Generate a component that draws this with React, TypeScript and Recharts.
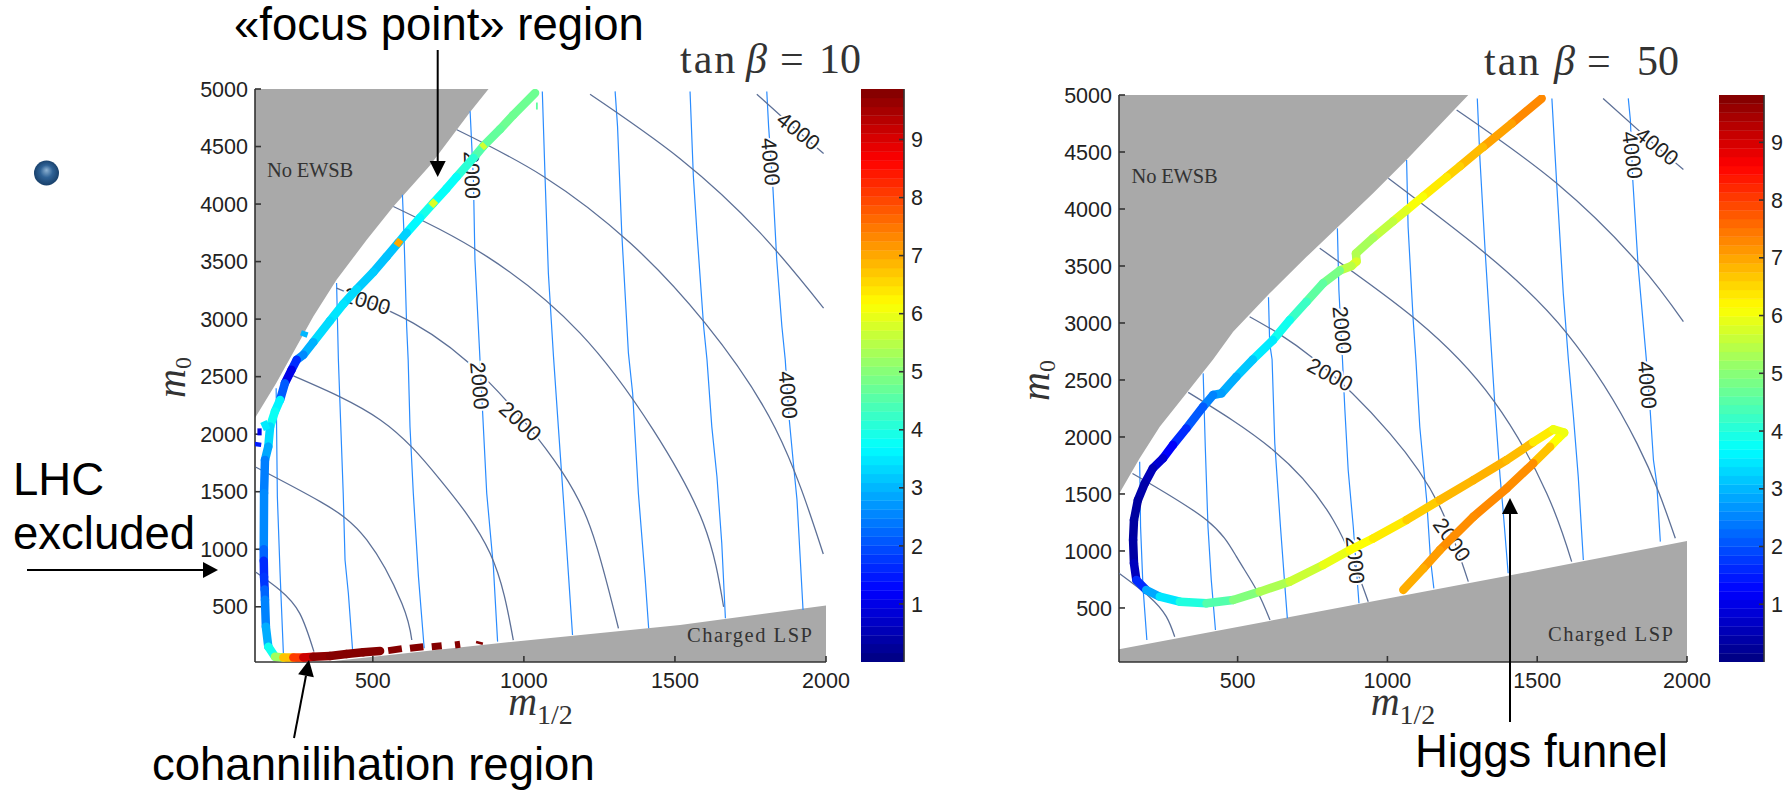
/**
 * Two m0 / m1/2 parameter-plane panels (tan beta = 10 and 50) with jet colour bars
 * and the hand-placed annotations that sit on top of them.
 */
import { Area, Bar, ComposedChart, Label, Scatter, XAxis, YAxis } from 'recharts';

type Pt = number[];

const xTicks = [500, 1000, 1500, 2000];
const yTicks = [500, 1000, 1500, 2000, 2500, 3000, 3500, 4000, 4500, 5000];
const barTicks = [1, 2, 3, 4, 5, 6, 7, 8, 9];

// ---- tan beta = 10 ----
const noEwsb10: Pt[] = [[110, 2140], [180, 2443], [226, 2660], [303, 3023], [380, 3342], [480, 3690], [568, 3979], [689, 4336], [822, 4800], [883, 5000]];
const chargedLsp10: Pt[] = [[340, 20], [965, 197], [1517, 342], [2000, 510]];

const gluinoLines10: Pt[][] = [
  [[180, 2400], [184, 1458], [193, 791], [204, 95]],
  [[380, 3313], [386, 2646], [394, 2066], [402, 1487], [408, 907], [419, 617], [433, 124]],
  [[598, 4081], [603, 3747], [612, 2936], [617, 2646], [623, 2066], [634, 1487], [651, 762], [670, 139]],
  [[822, 4806], [833, 4211], [838, 3516], [852, 2791], [863, 2211], [877, 1487], [899, 849], [913, 197]],
  [[1061, 4979], [1070, 4240], [1081, 3400], [1098, 2675], [1114, 2066], [1131, 1429], [1148, 762], [1161, 255]],
  [[1302, 4979], [1310, 4675], [1324, 3747], [1346, 2704], [1360, 2356], [1379, 1487], [1401, 762], [1413, 313]],
  [[1550, 4979], [1561, 4240], [1573, 3747], [1595, 2936], [1606, 2650], [1622, 2066], [1639, 1632], [1655, 1052], [1667, 400]],
  [[1804, 4979], [1810, 4675], [1824, 4154], [1837, 3516], [1854, 2936], [1865, 2650], [1878, 2139], [1892, 1747], [1904, 1429], [1915, 907], [1924, 472]],
];

const squarkLines10: Pt[][] = [
  [[113, 800], [192, 646], [258, 443], [305, 110]],
  [[113, 1713], [326, 1414], [480, 1081], [596, 530], [629, 211]],
  [[237, 2507], [525, 2124], [723, 1603], [888, 965], [965, 211]],
  [[380, 3269], [634, 2965], [877, 2472], [1126, 1675], [1241, 1023], [1313, 313]],
  [[568, 3979], [877, 3545], [1186, 2878], [1428, 2037], [1594, 1226], [1661, 500]],
  [[778, 4646], [1065, 4240], [1352, 3661], [1600, 2965], [1832, 2052], [1991, 959]],
  [[1219, 4954], [1517, 4394], [1783, 3747], [1992, 3096]],
  [[1771, 4954], [1908, 4631], [1992, 4440]],
];

const contourLabels10 = [
  { x: 827, y: 4252, text: '2000', angle: 88 },
  { x: 480, y: 3152, text: '2000', angle: 17 },
  { x: 852, y: 2420, text: '2000', angle: 85 },
  { x: 987, y: 2110, text: '2000', angle: 42 },
  { x: 1908, y: 4631, text: '4000', angle: 38 },
  { x: 1815, y: 4368, text: '4000', angle: 85 },
  { x: 1873, y: 2340, text: '4000', angle: 85 },
];
const regionNames10 = [
  { x: 150, y: 4237, text: 'No EWSB', span: 86 },
  { x: 1540, y: 194, text: 'Charged LSP', span: 125 },
];

// x, y, fine-tuning value
const track10: Pt[] = [
  [1037, 4965, 4.7], [965, 4775, 4.8], [921, 4650, 4.7], [866, 4505, 4.6], [833, 4400, 4.4], [777, 4235, 3.8], [744, 4135, 3.7], [700, 4008, 3.8],
  [656, 3880, 4], [612, 3750, 3.3], [585, 3665, 3.2], [546, 3545, 3], [502, 3410, 3.2], [447, 3260, 3.2], [402, 3130, 3.5], [358, 2985, 3.4],
  [303, 2800, 3.3], [270, 2690, 2.6], [248, 2646, 2.5], [231, 2559, 0.8], [209, 2443, 1.2], [193, 2298, 3], [176, 2197, 4.2], [160, 2066, 3.4],
  [154, 1892, 3.3], [143, 1776, 2.4], [140, 1487, 2.5], [139, 1000, 2.6], [139, 900, 1.8], [140, 760, 1.5], [142, 650, 2], [143, 560, 2.4], [146, 327, 2.6], [154, 153, 3.2],
  [176, 66, 4.5], [204, 60, 6], [237, 60, 7.5], [270, 60, 8.6], [303, 66, 9.6], [358, 72, 9.8], [413, 90, 9.8], [468, 105, 9.8], [524, 116, 9.8],
];
const scraps10: Pt[][] = [
  [[551, 119, 9.8], [596, 136, 9.8]],
  [[623, 139, 9.8], [667, 153, 9.8]],
  [[695, 153, 9.8], [728, 162, 9.8]],
  [[772, 168, 9.8], [789, 174, 9.8]],
  [[852, 176, 9.8], [854, 197, 9.8]],
  [[138, 2110, 3.5], [150, 2040, 3.6]],
  [[118, 2020, 1], [132, 2020, 1]],
  [[118, 1892, 1.5], [120, 1930, 1.5]],
  [[270, 2849, 3], [276, 2894, 4.5]],
  [[1040, 4852, 4.6], [1046, 4852, 4.6]],
  [[872, 4520, 5.7], [860, 4490, 5.7]],
  [[708, 4030, 5.8], [692, 3985, 5.8]],
  [[592, 3690, 7], [578, 3640, 7]],
];

// ---- tan beta = 50 ----
const noEwsb50: Pt[] = [[104, 1500], [173, 1813], [240, 2090], [329, 2383], [418, 2680], [485, 2924], [607, 3260], [730, 3580], [830, 3830], [953, 4140], [1064, 4433], [1262, 4979], [1270, 5000]];
const chargedLsp50: Pt[] = [[104, 137], [1376, 769], [2000, 1087]];

const gluinoLines50: Pt[][] = [
  [[173, 1783], [176, 1213], [184, 687], [197, 219]],
  [[385, 2558], [392, 1915], [401, 1213], [412, 745], [426, 307]],
  [[603, 3225], [607, 2821], [615, 2680], [624, 1944], [643, 1213], [657, 716], [666, 409]],
  [[833, 3830], [838, 3289], [850, 2675], [858, 2236], [869, 1710], [886, 1213], [905, 541]],
  [[1064, 4430], [1069, 3845], [1086, 3026], [1095, 2680], [1108, 2090], [1131, 1447], [1144, 921], [1155, 672]],
  [[1300, 4970], [1309, 4430], [1326, 3640], [1342, 2967], [1349, 2680], [1359, 2265], [1376, 1652], [1386, 1359], [1403, 804]],
  [[1549, 4970], [1565, 4225], [1587, 3260], [1604, 2680], [1621, 2178], [1637, 1652], [1654, 921]],
  [[1804, 4970], [1811, 4781], [1819, 4254], [1837, 3494], [1864, 2690], [1877, 2236], [1888, 1798], [1899, 1593], [1911, 1082]],
];

const squarkLines50: Pt[][] = [
  [[104, 804], [205, 599], [262, 424], [290, 248]],
  [[149, 1680], [396, 1272], [496, 950], [563, 658], [608, 394]],
  [[335, 2391], [618, 1886], [819, 1272], [936, 555]],
  [[540, 3055], [752, 2690], [1008, 2032], [1175, 1389], [1270, 731]],
  [[774, 3655], [1097, 3026], [1353, 2324], [1532, 1505], [1615, 906]],
  [[1003, 4269], [1320, 3625], [1599, 2909], [1833, 1944], [1961, 1111]],
  [[1231, 4868], [1565, 4225], [1838, 3523], [1988, 3011]],
  [[1720, 4970], [1899, 4547], [1988, 4347]],
];

const contourLabels50 = [
  { x: 1899, y: 4547, text: '4000', angle: 38 },
  { x: 1816, y: 4473, text: '4000', angle: 83 },
  { x: 1866, y: 2456, text: '4000', angle: 85 },
  { x: 847, y: 2939, text: '2000', angle: 85 },
  { x: 808, y: 2543, text: '2000', angle: 28 },
  { x: 891, y: 920, text: '2000', angle: 85 },
  { x: 1214, y: 1096, text: '2000', angle: 55 },
];
const regionNames50 = [
  { x: 146, y: 4228, text: 'No EWSB', span: 86 },
  { x: 1536, y: 210, text: 'Charged LSP', span: 125 },
];

const track50: Pt[] = [
  [1515, 4970, 7.4], [1415, 4750, 7.2], [1319, 4543, 6.9], [1242, 4375, 6.7], [1198, 4280, 6.5], [1119, 4109, 6.2], [1064, 3990, 6], [1019, 3892, 5.7],
  [953, 3748, 5.4], [895, 3610, 5.2], [897, 3540, 5.6], [880, 3500, 6], [841, 3460, 5], [785, 3348, 4.7], [730, 3187, 4.5], [674, 3026, 4], [618, 2850, 3.7],
  [551, 2680, 3.3], [496, 2529, 3], [446, 2383, 2.8], [418, 2368, 2.7], [385, 2266, 2.3], [329, 2075, 1.9], [284, 1930, 1.4], [251, 1813, 1], [217, 1725, 0.6],
  [190, 1593, 0.5], [167, 1447, 0.3], [154, 1272, 0.3], [151, 1096, 0.3], [154, 891, 0.4], [162, 745, 0.8], [195, 658, 2.5], [240, 599, 3.2], [307, 555, 3.7],
  [396, 541, 4.3], [485, 570, 4.7], [574, 643, 5.2], [674, 731, 5.5], [785, 877, 5.8], [875, 1008, 6.1], [952, 1110, 6.2], [1064, 1272, 6.5], [1175, 1447, 6.8],
  [1287, 1622, 6.9], [1398, 1798, 6.9], [1487, 1955, 6.7], [1554, 2067, 6], [1590, 2038, 6], [1570, 1988, 6], [1543, 1915, 6.3], [1487, 1769, 7.2],
  [1398, 1549, 7.3], [1287, 1301, 7.3], [1175, 1008, 7.2], [1120, 848, 7], [1053, 658, 6.9],
];

const colorbarBands = 64;

function jet(value: number, max: number): string {
  const t = Math.min(1, Math.max(0, value / max));
  const ch = (c: number) => Math.round(255 * Math.min(1, Math.max(0, 1.5 - Math.abs(4 * t - c))));
  return `rgb(${ch(3)},${ch(2)},${ch(1)})`;
}

const toPoints = (line: Pt[]) => line.map(([x, y]) => ({ x, y }));
const toBand = (edge: Pt[], top: boolean, limit: number) =>
  edge.map(([x, y]) => ({ x, band: top ? [y, limit] : [limit, y] }));

function trackSegments(track: Pt[]) {
  return track.slice(1).map((p, i) => {
    const prev = track[i];
    return { points: toPoints([prev, p]), v: (prev[2] + p[2]) / 2 };
  });
}

const axisInk = '#333';
const tickStyle = { fontSize: 21.5, fill: '#222', fontFamily: 'Liberation Sans' };
const blank = () => '';

function MathX(props: any) {
  const { x, y, width } = props.viewBox;
  return (
    <text x={x + width / 2} y={y + 53} textAnchor="middle" fontFamily="Liberation Serif" fill="#333">
      <tspan fontStyle="italic" fontSize={40}>m</tspan>
      <tspan fontSize={28} dy={9}>1/2</tspan>
    </text>
  );
}

function MathY(props: any) {
  const { y, height, x } = props.viewBox;
  const cy = y + height / 2 + 2;
  const cx = x + props.shift;
  return (
    <text transform={`rotate(-90 ${cx} ${cy})`} x={cx} y={cy} textAnchor="middle" fontFamily="Liberation Serif" fill="#333">
      <tspan fontStyle="italic" fontSize={40}>m</tspan>
      <tspan fontSize={24} dy={6}>0</tspan>
    </text>
  );
}

function ContourLabel(props: any) {
  const { cx, cy, payload } = props;
  return (
    <text
      x={cx}
      y={cy}
      transform={`rotate(${payload.angle} ${cx} ${cy})`}
      textAnchor="middle"
      dominantBaseline="central"
      fontSize={21.5}
      fontFamily="Liberation Sans"
      fill="#222"
      stroke="#fff"
      strokeWidth={4}
      paintOrder="stroke"
    >
      {payload.text}
    </text>
  );
}

function RegionName(props: any) {
  const { cx, cy, payload } = props;
  return (
    <text x={cx} y={cy} fontSize={20.5} fontFamily="Liberation Serif" fill="#333" textLength={payload.span} lengthAdjust="spacing">
      {payload.text}
    </text>
  );
}

const noMark = () => null;

interface PanelProps {
  left: number;
  top: number;
  right: number;
  bottom: number;
  xMin: number;
  yMin: number;
  noEwsb: Pt[];
  chargedLsp: Pt[];
  gluino: Pt[][];
  squark: Pt[][];
  labels: any[];
  names: any[];
  track: Pt[];
  scraps: Pt[][];
}

const AXIS_W = 120;
const AXIS_H = 70;
const PAD = 30;
const VALUE_MAX = 9.85;

function Panel(p: PanelProps) {
  const plotW = p.right - p.left;
  const plotH = p.bottom - p.top;
  return (
    <div style={{ position: 'absolute', left: p.left - AXIS_W, top: p.top - PAD }}>
      <ComposedChart
        width={plotW + AXIS_W + PAD}
        height={plotH + AXIS_H + PAD}
        margin={{ top: PAD, right: PAD, bottom: 0, left: 0 }}
      >
        <XAxis
          dataKey="x"
          type="number"
          domain={[p.xMin, 2000]}
          ticks={xTicks}
          interval={0}
          allowDataOverflow
          height={AXIS_H}
          tickSize={-6}
          tickMargin={17}
          tick={tickStyle}
          stroke={axisInk}
          strokeWidth={1.6}
        >
          <Label content={<MathX />} />
        </XAxis>
        <XAxis
          xAxisId="top"
          orientation="top"
          type="number"
          domain={[p.xMin, 2000]}
          ticks={xTicks}
          interval={0}
          allowDataOverflow
          height={0}
          tickSize={6}
          tickFormatter={blank}
          stroke={axisInk}
          strokeWidth={1.6}
        />
        <YAxis
          dataKey="y"
          type="number"
          domain={[p.yMin, 5000]}
          ticks={yTicks}
          interval={0}
          allowDataOverflow
          width={AXIS_W}
          tickSize={-6}
          tickMargin={13}
          tick={tickStyle}
          stroke={axisInk}
          strokeWidth={1.6}
        >
          <Label content={<MathY shift={50} />} />
        </YAxis>
        <YAxis
          yAxisId="right"
          orientation="right"
          type="number"
          domain={[p.yMin, 5000]}
          ticks={yTicks}
          interval={0}
          allowDataOverflow
          width={0}
          tickSize={6}
          tickFormatter={blank}
          stroke={axisInk}
          strokeWidth={1.6}
        />

        <Area
          data={toBand(p.noEwsb, true, 5000)}
          dataKey="band"
          stroke="none"
          fill="#a9a9a9"
          fillOpacity={1}
          dot={false}
          activeDot={false}
          isAnimationActive={false}
        />
        <Area
          data={toBand(p.chargedLsp, false, p.yMin)}
          dataKey="band"
          stroke="none"
          fill="#a9a9a9"
          fillOpacity={1}
          dot={false}
          activeDot={false}
          isAnimationActive={false}
        />

        {p.gluino.map((line, i) => (
          <Scatter
            key={`g${i}`}
            data={toPoints(line)}
            shape={noMark}
            line={{ stroke: '#2a8cff', strokeWidth: 1.2 }}
            isAnimationActive={false}
          />
        ))}
        {p.squark.map((line, i) => (
          <Scatter
            key={`s${i}`}
            data={toPoints(line)}
            shape={noMark}
            lineJointType="natural"
            line={{ stroke: '#5d7097', strokeWidth: 1.3 }}
            isAnimationActive={false}
          />
        ))}
        <Scatter data={p.labels} shape={ContourLabel} isAnimationActive={false} />
        <Scatter data={p.names} shape={RegionName} isAnimationActive={false} />

        {trackSegments(p.track).map((seg, i) => (
          <Scatter
            key={`t${i}`}
            data={seg.points}
            shape={noMark}
            line={{ stroke: jet(seg.v, VALUE_MAX), strokeWidth: 8.5, strokeLinecap: 'round' }}
            isAnimationActive={false}
          />
        ))}
        {p.scraps.map((scrap, i) => (
          <Scatter
            key={`c${i}`}
            data={toPoints(scrap)}
            shape={noMark}
            line={{ stroke: jet(scrap[0][2], VALUE_MAX), strokeWidth: 7 }}
            isAnimationActive={false}
          />
        ))}
      </ComposedChart>
    </div>
  );
}

function ColorBar({ left, top, right, bottom, max }: { left: number; top: number; right: number; bottom: number; max: number }) {
  const row: Record<string, number | string> = { name: 'value' };
  const keys: string[] = [];
  for (let i = 0; i < colorbarBands; i++) {
    keys.push(`band${i}`);
    row[`band${i}`] = max / colorbarBands;
  }
  return (
    <div style={{ position: 'absolute', left, top: top - PAD }}>
      <ComposedChart
        width={right - left + 40}
        height={bottom - top + PAD * 2}
        data={[row]}
        barCategoryGap={0}
        margin={{ top: PAD, right: 0, bottom: PAD, left: 0 }}
      >
        <XAxis dataKey="name" height={0} tick={false} tickLine={false} stroke={axisInk} strokeWidth={1.6} />
        <XAxis xAxisId="top" dataKey="name" orientation="top" height={0} tick={false} tickLine={false} stroke={axisInk} strokeWidth={1.6} />
        <YAxis
          yAxisId="labels"
          orientation="right"
          type="number"
          domain={[0, max]}
          ticks={barTicks}
          interval={0}
          allowDataOverflow
          width={40}
          tickSize={-5}
          tickMargin={12}
          tick={tickStyle}
          stroke={axisInk}
          strokeWidth={1.6}
        />
        <YAxis
          yAxisId="inner"
          orientation="left"
          type="number"
          domain={[0, max]}
          ticks={barTicks}
          interval={0}
          allowDataOverflow
          width={0}
          tickSize={-5}
          tickFormatter={blank}
          stroke={axisInk}
          strokeWidth={1.6}
        />
        {keys.map((key, i) => {
          const color = jet(((i + 0.5) / colorbarBands) * max, max);
          return (
            <Bar
              key={key}
              dataKey={key}
              yAxisId="labels"
              stackId="bar"
              fill={color}
              stroke={color}
              strokeWidth={0.4}
              isAnimationActive={false}
            />
          );
        })}
      </ComposedChart>
    </div>
  );
}

function Arrow({ x1, y1, x2, y2, head = 16, half = 8 }: { x1: number; y1: number; x2: number; y2: number; head?: number; half?: number }) {
  const len = Math.hypot(x2 - x1, y2 - y1);
  const ux = (x2 - x1) / len;
  const uy = (y2 - y1) / len;
  const bx = x2 - ux * head;
  const by = y2 - uy * head;
  return (
    <g>
      <line x1={x1} y1={y1} x2={bx} y2={by} stroke="#000" strokeWidth={2} />
      <polygon points={`${x2},${y2} ${bx - uy * half},${by + ux * half} ${bx + uy * half},${by - ux * half}`} fill="#000" />
    </g>
  );
}

function TanBeta({ x, y, betaAt, eqAt, valueAt, value }: { x: number; y: number; betaAt: number; eqAt: number; valueAt: number; value: string }) {
  return (
    <text y={y} fontFamily="Liberation Serif" fontSize={42} fill="#333">
      <tspan x={x} letterSpacing={2}>tan</tspan>
      <tspan x={x + betaAt} fontStyle="italic">β</tspan>
      <tspan x={x + eqAt}>=</tspan>
      <tspan x={x + valueAt}>{value}</tspan>
    </text>
  );
}

function Annotations() {
  const big = { fontFamily: 'Liberation Sans', fontSize: 45.5, fill: '#000' };
  return (
    <svg width={1789} height={791} style={{ position: 'absolute', left: 0, top: 0, pointerEvents: 'none' }}>
      <defs>
        <radialGradient id="ball" cx="50%" cy="50%" r="55%" fx="50%" fy="38%">
          <stop offset="0%" stopColor="#8fb3d3" />
          <stop offset="45%" stopColor="#2f6296" />
          <stop offset="100%" stopColor="#143a63" />
        </radialGradient>
      </defs>
      <circle cx={46.5} cy={173} r={12.5} fill="url(#ball)" />

      <TanBeta x={680} y={73} betaAt={66} eqAt={100} valueAt={139} value="10" />
      <TanBeta x={1484} y={75} betaAt={70} eqAt={103} valueAt={153} value="50" />

      <text x={234} y={40} {...big}>«focus point» region</text>
      <text x={13} y={495} {...big}>LHC</text>
      <text x={13} y={549} {...big}>excluded</text>
      <text x={152} y={780} {...big}>cohannilihation region</text>
      <text x={1415} y={767} {...big}>Higgs funnel</text>

      <Arrow x1={437.7} y1={50} x2={437.7} y2={177} />
      <Arrow x1={27} y1={570} x2={218} y2={570} head={15} />
      <Arrow x1={294} y1={738} x2={309} y2={660} />
      <Arrow x1={1510} y1={722} x2={1510} y2={498} />
    </svg>
  );
}

export default function App() {
  return (
    <div style={{ position: 'absolute', left: 0, top: 0, width: 1789, height: 791, background: '#fff', overflow: 'hidden' }}>
      <Panel
        left={255}
        top={89}
        right={826}
        bottom={662}
        xMin={110}
        yMin={20}
        noEwsb={noEwsb10}
        chargedLsp={chargedLsp10}
        gluino={gluinoLines10}
        squark={squarkLines10}
        labels={contourLabels10}
        names={regionNames10}
        track={track10}
        scraps={scraps10}
      />
      <ColorBar left={861} top={89} right={904} bottom={662} max={9.87} />
      <Panel
        left={1119}
        top={95}
        right={1687}
        bottom={662}
        xMin={104}
        yMin={26}
        noEwsb={noEwsb50}
        chargedLsp={chargedLsp50}
        gluino={gluinoLines50}
        squark={squarkLines50}
        labels={contourLabels50}
        names={regionNames50}
        track={track50}
        scraps={[]}
      />
      <ColorBar left={1719} top={95} right={1764} bottom={662} max={9.82} />
      <Annotations />
    </div>
  );
}
